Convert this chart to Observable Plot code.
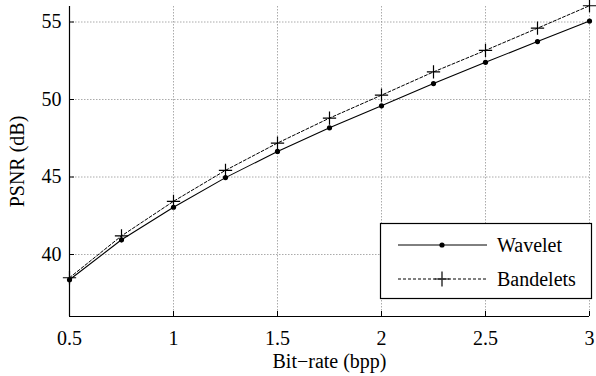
<!DOCTYPE html>
<html><head><meta charset="utf-8">
<script src="https://cdn.jsdelivr.net/npm/d3@7"></script>
<script src="https://cdn.jsdelivr.net/npm/@observablehq/plot@0.6"></script>
<style>body{margin:0;background:#fff}#c{width:596px;height:376px}
#c svg, #c svg text{font-family:'Liberation Serif','Times New Roman',serif !important;}</style>
</head><body><div id="c"></div>
<script>
const bitrate = [0.5, 0.75, 1, 1.25, 1.5, 1.75, 2, 2.25, 2.5, 2.75, 3];
const wavelet = [38.37, 40.95, 43.05, 44.96, 46.65, 48.17, 49.59, 51.03, 52.4, 53.74, 55.06];
const bandelets = [38.5, 41.2, 43.43, 45.43, 47.19, 48.8, 50.28, 51.78, 53.17, 54.6, 56.05];
const seriesNames = ["Wavelet", "Bandelets"];
const xTicks = [0.5, 1, 1.5, 2, 2.5, 3];
const yTicks = [40, 45, 50, 55];

const wData = bitrate.map((x, i) => ({x, y: wavelet[i]}));
const bData = bitrate.map((x, i) => ({x, y: bandelets[i]}));

const plusSymbol = {draw(ctx, size) {
  const r = Math.sqrt(size) / 2;
  ctx.moveTo(-r, 0); ctx.lineTo(r, 0);
  ctx.moveTo(0, -r); ctx.lineTo(0, r);
}};

const FONT = "'Liberation Serif', 'Times New Roman', serif";

const chart = Plot.plot({
  width: 596, height: 376,
  marginLeft: 69, marginRight: 7, marginTop: 6, marginBottom: 60,
  style: {fontFamily: FONT, fontSize: "20px", background: "#fff", color: "#000"},
  x: {domain: [0.5, 3]},
  y: {domain: [36, 56]},
  marks: [
    Plot.gridX(xTicks, {stroke: "#888", strokeOpacity: 0.7, strokeDasharray: "1.5,1.5"}),
    Plot.gridY(yTicks, {stroke: "#888", strokeOpacity: 0.7, strokeDasharray: "1.5,1.5"}),
    Plot.axisX(xTicks, {tickSize: 0, tickPadding: 14, tickFormat: d => String(d), label: "Bit\u2212rate (bpp)", labelAnchor: "center", labelArrow: "none", labelOffset: 51, fontSize: 20, fontFamily: FONT}),
    Plot.axisX(xTicks, {tickSize: -5, tickFormat: () => "", label: null}),
    Plot.axisY(yTicks, {tickSize: 0, tickPadding: 8, label: "PSNR (dB)", labelAnchor: "center", labelArrow: "none", labelOffset: 60, fontSize: 20, fontFamily: FONT}),
    Plot.axisY(yTicks, {tickSize: -5, tickFormat: () => "", label: null}),
    Plot.ruleX([0.5], {stroke: "#000", strokeWidth: 1.2}),
    Plot.ruleY([36], {stroke: "#000", strokeWidth: 1.2}),
    Plot.line(wData, {x: "x", y: "y", stroke: "#000", strokeWidth: 1.1}),
    Plot.dot(wData, {x: "x", y: "y", r: 2.6, fill: "#000"}),
    Plot.line(bData, {x: "x", y: "y", stroke: "#000", strokeWidth: 1, strokeDasharray: "3,2"}),
    Plot.dot(bData, {x: "x", y: "y", symbol: plusSymbol, r: 7.5, stroke: "#000", strokeWidth: 1.2, fill: "none"})
  ]
});
document.getElementById("c").appendChild(chart);

// legend box
const svg = d3.select(chart);
const g = svg.append("g").attr("font-family", FONT).attr("font-size", 20).attr("text-anchor", "start");
g.append("rect").attr("x", 380.5).attr("y", 223.5).attr("width", 211).attr("height", 75)
  .attr("fill", "#fff").attr("stroke", "#000").attr("stroke-width", 1.2);
const rows = [
  {name: seriesNames[0], y: 245, dash: null},
  {name: seriesNames[1], y: 279, dash: "3,2"}
];
rows.forEach((r, i) => {
  g.append("line").attr("x1", 398).attr("x2", 487).attr("y1", r.y).attr("y2", r.y)
    .attr("stroke", "#000").attr("stroke-width", 1).attr("stroke-dasharray", r.dash);
  if (i === 0) {
    g.append("circle").attr("cx", 442).attr("cy", r.y).attr("r", 2.6).attr("fill", "#000");
  } else {
    g.append("path").attr("d", `M434.5,${r.y}H449.5M442,${r.y - 7.5}V${r.y + 7.5}`).attr("stroke", "#000").attr("stroke-width", 1.2);
  }
  g.append("text").attr("x", 497).attr("y", r.y).attr("dy", "0.35em").attr("text-anchor", "start").text(r.name);
});
</script></body></html>
